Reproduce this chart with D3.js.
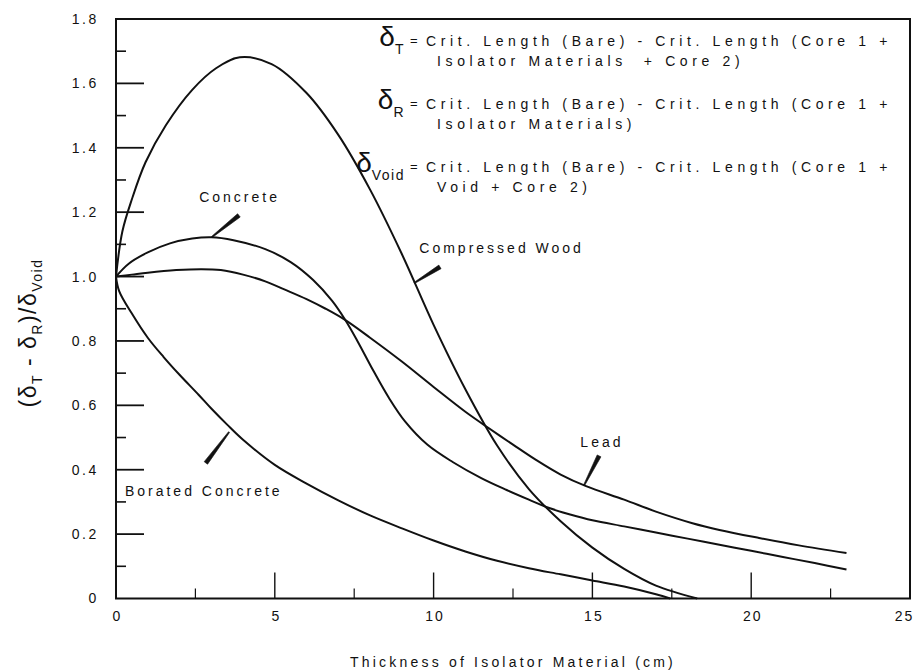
<!DOCTYPE html>
<html>
<head>
<meta charset="utf-8">
<script src="https://cdn.jsdelivr.net/npm/d3@7"></script>
<style>
  html, body { margin: 0; padding: 0; background: #fff; }
  svg { display: block; }
  text { font-family: "Liberation Sans", Arial, sans-serif; fill: #111; }
</style>
</head>
<body>
<svg id="chart" width="918" height="672"></svg>
<script>
// Normalized reactivity worth (δT - δR)/δVoid versus isolator thickness (cm)
const compressedWood = [
  [0, 1.0], [0.2, 1.14], [0.5, 1.24], [0.93, 1.355], [1.57, 1.47], [2.4, 1.58],
  [3.15, 1.647], [3.9, 1.681], [4.9, 1.66], [6.0, 1.57], [7.0, 1.44], [8.0, 1.27],
  [9.0, 1.07], [10.0, 0.85], [11.0, 0.65], [12.0, 0.475], [13.0, 0.34], [14.0, 0.24],
  [15.0, 0.158], [16.0, 0.092], [17.0, 0.04], [18.3, 0.0]
];
const concrete = [
  [0, 1.0], [0.4, 1.04], [1.0, 1.075], [1.7, 1.103], [2.4, 1.118], [3.0, 1.122],
  [3.7, 1.113], [4.7, 1.085], [5.5, 1.045], [6.2, 0.99], [6.8, 0.925], [7.2, 0.868],
  [7.6, 0.8], [8.1, 0.708], [8.6, 0.622], [9.1, 0.55], [9.8, 0.478], [10.6, 0.424],
  [11.5, 0.374], [12.3, 0.337], [13.0, 0.307], [13.64, 0.281], [14.3, 0.261],
  [15.0, 0.243], [16.0, 0.224], [17.0, 0.205], [18.0, 0.186], [19.0, 0.167],
  [20.0, 0.148], [21.0, 0.129], [22.0, 0.11], [23.0, 0.09]
];
const lead = [
  [0, 1.0], [0.5, 1.006], [1.0, 1.012], [1.9, 1.02], [2.7, 1.023], [3.3, 1.02],
  [4.0, 1.006], [4.7, 0.985], [5.3, 0.96], [6.0, 0.93], [6.6, 0.9], [7.2, 0.866],
  [8.0, 0.81], [9.0, 0.736], [10.0, 0.657], [11.0, 0.58], [11.65, 0.535], [12.5, 0.478],
  [13.2, 0.432], [14.0, 0.385], [14.8, 0.349], [16.0, 0.307], [17.0, 0.27],
  [18.15, 0.234], [19.0, 0.213], [20.25, 0.188], [21.5, 0.165], [23.0, 0.141]
];
const boratedConcrete = [
  [0, 1.0], [0.1, 0.955], [0.5, 0.885], [1.0, 0.81], [1.5, 0.75], [2.0, 0.695],
  [2.6, 0.633], [3.0, 0.59], [3.5, 0.54], [4.0, 0.493], [5.0, 0.415], [6.0, 0.357],
  [7.0, 0.305], [8.0, 0.258], [9.0, 0.218], [10.0, 0.18], [11.0, 0.146], [12.0, 0.117],
  [13.0, 0.094], [14.0, 0.075], [15.0, 0.056], [16.0, 0.037], [17.0, 0.013], [17.45, 0.0]
];

const series = [compressedWood, concrete, lead, boratedConcrete];

// curve call-outs: label position plus a short leader from the curve
const annotations = [
  { label: "Concrete",         lx: 3.89, ly: 1.232, anchor: "middle", from: [3.02, 1.123], to: [3.87, 1.19] },
  { label: "Compressed Wood",  lx: 9.55, ly: 1.073, anchor: "start",  from: [9.39, 0.98],  to: [10.2, 1.03] },
  { label: "Lead",             lx: 15.3, ly: 0.47,  anchor: "middle", from: [14.74, 0.352], to: [15.21, 0.443] },
  { label: "Borated Concrete", lx: 0.28, ly: 0.318, anchor: "start",  from: [3.56, 0.517], to: [2.83, 0.421] }
];

const xTickLabels = [0, 5, 10, 15, 20, 25];
const xTicksMajor = [5, 10, 15, 20];
const xTicksMinor = [2.5, 7.5, 12.5, 17.5, 22.5];
const yTickLabels = [0, 0.2, 0.4, 0.6, 0.8, 1.0, 1.2, 1.4, 1.6, 1.8];
const yTicksMajor = [0.2, 0.4, 0.6, 0.8, 1.0, 1.2, 1.4, 1.6];
const yTicksMinor = [0.1, 0.3, 0.5, 0.7, 0.9, 1.1, 1.3, 1.5, 1.7];

const definitionLines = [
  { sub: "T",    lines: ["Crit. Length (Bare) - Crit. Length (Core 1 +", "Isolator Materials  + Core 2)"] },
  { sub: "R",    lines: ["Crit. Length (Bare) - Crit. Length (Core 1 +", "Isolator Materials)"] },
  { sub: "Void", lines: ["Crit. Length (Bare) - Crit. Length (Core 1 +", "Void + Core 2)"] }
];

const svg = d3.select("#chart");
const x = d3.scaleLinear().domain([0, 25]).range([116, 910]);
const y = d3.scaleLinear().domain([0, 1.8]).range([598.5, 19]);

// frame
svg.append("path")
  .attr("d", `M${x(0)},${y(0)} V${y(1.8)} H${x(25)} V${y(0)} Z`)
  .attr("fill", "none").attr("stroke", "#111").attr("stroke-width", 2);

// y axis labels; ticks point inward
const yAxis = d3.axisLeft(y).tickValues(yTickLabels)
  .tickSize(0).tickPadding(17)
  .tickFormat(d => d === 0 ? "0" : d3.format(".1f")(d));
const gy = svg.append("g").attr("transform", `translate(${x(0)},0)`).call(yAxis);
gy.select(".domain").remove();
gy.selectAll("text").attr("font-size", 14).attr("letter-spacing", 2.6)
  .attr("font-family", "Liberation Sans, Arial, sans-serif").attr("fill", "#111");

svg.append("g").selectAll("line").data(yTicksMajor).join("line")
  .attr("x1", x(0)).attr("x2", x(0) + 28).attr("y1", d => y(d)).attr("y2", d => y(d))
  .attr("stroke", "#111").attr("stroke-width", 1.8);
svg.append("g").selectAll("line").data(yTicksMinor).join("line")
  .attr("x1", x(0)).attr("x2", x(0) + 10).attr("y1", d => y(d)).attr("y2", d => y(d))
  .attr("stroke", "#111").attr("stroke-width", 1.6);

// x axis labels; ticks point inward
const xAxis = d3.axisBottom(x).tickValues(xTickLabels).tickSize(0).tickPadding(13)
  .tickFormat(d3.format("d"));
const gx = svg.append("g").attr("transform", `translate(0,${y(0)})`).call(xAxis);
gx.select(".domain").remove();
gx.selectAll("text").attr("font-size", 14).attr("letter-spacing", 2)
  .attr("dx", d => d === 25 ? -6 : 1)
  .attr("font-family", "Liberation Sans, Arial, sans-serif").attr("fill", "#111");

svg.append("g").selectAll("line").data(xTicksMajor).join("line")
  .attr("x1", d => x(d)).attr("x2", d => x(d)).attr("y1", y(0)).attr("y2", y(0) - 26)
  .attr("stroke", "#111").attr("stroke-width", 1.4);
svg.append("g").selectAll("line").data(xTicksMinor).join("line")
  .attr("x1", d => x(d)).attr("x2", d => x(d)).attr("y1", y(0)).attr("y2", y(0) - 10)
  .attr("stroke", "#111").attr("stroke-width", 1.2);

// curves
const line = d3.line().x(d => x(d[0])).y(d => y(d[1])).curve(d3.curveCatmullRom.alpha(0.5));
svg.append("g").selectAll("path").data(series).join("path")
  .attr("d", line).attr("fill", "none").attr("stroke", "#111")
  .attr("stroke-width", 2).attr("stroke-linejoin", "round");

// tapered leaders: thin at the curve, heavier toward the label
function taper(a, b, w0, w1) {
  const ax = x(a[0]), ay = y(a[1]), bx = x(b[0]), by = y(b[1]);
  const len = Math.hypot(bx - ax, by - ay);
  const nx = -(by - ay) / len, ny = (bx - ax) / len;
  return `M${ax + nx * w0 / 2},${ay + ny * w0 / 2} L${bx + nx * w1 / 2},${by + ny * w1 / 2} ` +
         `L${bx - nx * w1 / 2},${by - ny * w1 / 2} L${ax - nx * w0 / 2},${ay - ny * w0 / 2} Z`;
}
svg.append("g").selectAll("path").data(annotations).join("path")
  .attr("d", d => taper(d.from, d.to, 1.2, 4.2))
  .attr("fill", "#111").attr("stroke", "#111").attr("stroke-width", 0.6)
  .attr("stroke-linejoin", "round");

svg.append("g").selectAll("text").data(annotations).join("text")
  .attr("x", d => x(d.lx)).attr("y", d => y(d.ly))
  .attr("text-anchor", d => d.anchor)
  .attr("font-size", 14).attr("letter-spacing", 3)
  .text(d => d.label);

// definitions of the deltas
const defX = 426, eqX = 410, defTop = 46, rowGap = 63, lineGap = 20;
const defG = svg.append("g");
definitionLines.forEach((row, i) => {
  const by = defTop + i * rowGap;
  const sym = defG.append("text").attr("x", eqX - 5).attr("y", by).attr("text-anchor", "end");
  sym.append("tspan").attr("font-size", 28).text("δ");
  sym.append("tspan").attr("font-size", 14).attr("dy", 8).attr("letter-spacing", 1.5).text(row.sub);
  defG.append("text").attr("x", eqX).attr("y", by - 1).attr("font-size", 13).text("=");
  row.lines.forEach((t, j) => {
    defG.append("text").attr("class", "def")
      .attr("x", j === 0 ? defX : defX + 11).attr("y", by + j * lineGap)
      .attr("font-size", 14).attr("xml:space", "preserve").style("white-space", "pre")
      .text(t);
  });
});
// spread the definition text so the first line spans to just inside the frame
const defNodes = defG.selectAll("text.def").nodes();
const firstW = defNodes[0].getComputedTextLength();
const chars = definitionLines[0].lines[0].length;
const spacing = (466 - firstW) / chars;
defG.selectAll("text.def").attr("letter-spacing", spacing);

// axis titles
svg.append("text")
  .attr("x", (x(0) + x(25)) / 2).attr("y", 667)
  .attr("text-anchor", "middle").attr("font-size", 14).attr("letter-spacing", 3.2)
  .text("Thickness of Isolator Material (cm)");

const yl = svg.append("text")
  .attr("transform", `translate(36,333) rotate(-90)`)
  .attr("text-anchor", "middle").attr("font-size", 23).attr("letter-spacing", 1.5);
yl.append("tspan").text("(δ");
yl.append("tspan").attr("font-size", 14).attr("dy", 6).text("T");
yl.append("tspan").attr("dy", -6).text(" - δ");
yl.append("tspan").attr("font-size", 14).attr("dy", 6).text("R");
yl.append("tspan").attr("dy", -6).text(")/δ");
yl.append("tspan").attr("font-size", 14).attr("dy", 6).text("Void");
</script>
</body>
</html>
